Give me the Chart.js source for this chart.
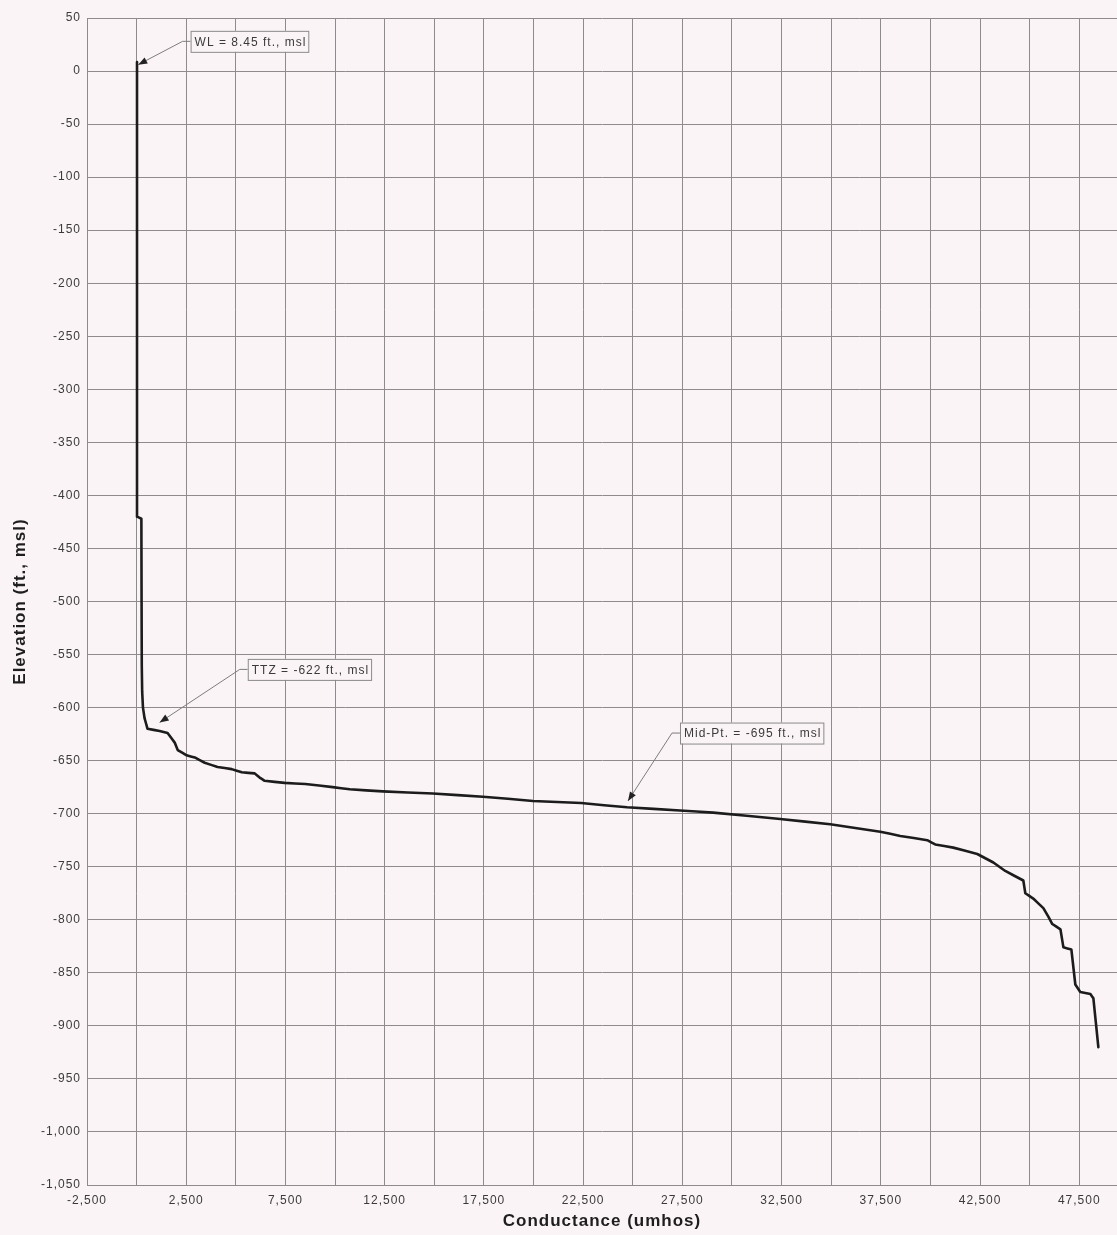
<!DOCTYPE html>
<html>
<head>
<meta charset="utf-8">
<title>Conductance vs Elevation</title>
<script src="https://cdn.jsdelivr.net/npm/chart.js@4/dist/chart.umd.min.js"></script>
<style>
  html, body { margin: 0; padding: 0; background: #fbf4f7; }
  #wrap { width: 1117px; height: 1235px; position: relative; }
</style>
</head>
<body>
<div id="wrap"><canvas id="profile"></canvas></div>
<script>
// log values, top of the hole to the bottom
const conductance = [
  20, 20, 240, 250, 260, 280, 320, 400, 550, 1160, 1560, 1920, 2070, 2520, 2930,
  3430, 4080, 4790, 5300, 5950, 6200, 6450, 7460, 8500, 9880, 10740, 12400, 14930,
  17450, 19970, 22400, 24710, 27380, 29050, 32430, 34950, 37470, 38480, 39840,
  40240, 41150, 42360, 43170, 43770, 44680, 44780, 45180, 45690, 45940, 46140,
  46550, 46700, 47100, 47300, 47550, 48060, 48210, 48460
];
const elevation = [
  8.45, -420, -422, -500, -560, -585, -600, -610, -620, -622, -624, -633, -640, -645, -647,
  -652, -656, -658, -661, -662, -666, -669, -671, -672, -675, -677, -679, -681,
  -684, -688, -690, -694, -697, -699, -705, -710, -717, -721, -725,
  -729, -732, -738, -746, -754, -763, -775, -780, -789, -797, -804,
  -809, -826, -828, -861, -868, -870, -874, -920
];

// grid every 2,500, label every other one
const xTicks = [
  -2500, 0, 2500, 5000, 7500, 10000, 12500, 15000, 17500, 20000, 22500,
  25000, 27500, 30000, 32500, 35000, 37500, 40000, 42500, 45000, 47500
];
const xLabelEvery = 2;
const xMin = -2500;
const xMax = 49400;
const yMin = -1050;
const yMax = 50;
const yStep = 50;

// callouts: label, arrow tip (data), box left-middle (data)
const noteText = ['WL = 8.45 ft., msl', 'TTZ = -622 ft., msl', 'Mid-Pt. = -695 ft., msl'];
const noteTipX = [80, 1160, 24760];
const noteTipY = [6, -614, -688];
const noteBoxX = [2720, 5600, 27380];
const noteBoxY = [28, -564, -624];

const bg = '#fbf4f7';
const gridColor = '#8f8a8d';
const textColor = '#3a3a3a';
const fontFamily = '"Liberation Sans", Arial, sans-serif';

function fmt(v) {
  return Number(v).toLocaleString('en-US');
}

const spacing = {
  id: 'spacing',
  beforeLayout(chart) { chart.ctx.letterSpacing = '1px'; },
  beforeDraw(chart) {
    const c = chart.ctx;
    c.letterSpacing = '1px';
    c.save();
    c.fillStyle = bg;
    c.fillRect(0, 0, chart.width, chart.height);
    c.restore();
  }
};

const callouts = {
  id: 'callouts',
  afterDatasetsDraw(chart) {
    const c = chart.ctx;
    const xs = chart.scales.x;
    const ys = chart.scales.y;
    c.save();
    c.font = '12px ' + fontFamily;
    c.letterSpacing = '1px';
    for (let i = 0; i < noteText.length; i++) {
      const tx = xs.getPixelForValue(noteTipX[i]);
      const ty = ys.getPixelForValue(noteTipY[i]);
      const bx = xs.getPixelForValue(noteBoxX[i]);
      const by = ys.getPixelForValue(noteBoxY[i]);
      const w = c.measureText(noteText[i]).width + 6;
      const h = 21;

      // leader
      c.strokeStyle = '#7d7d7d';
      c.lineWidth = 1;
      c.beginPath();
      c.moveTo(bx, by);
      c.lineTo(bx - 8, by);
      c.lineTo(tx, ty);
      c.stroke();

      // arrow head
      const ang = Math.atan2(ty - by, tx - (bx - 8));
      c.fillStyle = '#222';
      c.beginPath();
      c.moveTo(tx, ty);
      c.lineTo(tx - 9 * Math.cos(ang) + 3.5 * Math.sin(ang), ty - 9 * Math.sin(ang) - 3.5 * Math.cos(ang));
      c.lineTo(tx - 9 * Math.cos(ang) - 3.5 * Math.sin(ang), ty - 9 * Math.sin(ang) + 3.5 * Math.cos(ang));
      c.closePath();
      c.fill();

      // box
      c.fillStyle = bg;
      c.fillRect(bx, by - h / 2, w, h);
      c.strokeStyle = '#8a8a8a';
      c.strokeRect(bx + 0.5, by - h / 2 + 0.5, w, h);
      c.fillStyle = textColor;
      c.textAlign = 'left';
      c.textBaseline = 'middle';
      c.fillText(noteText[i], bx + 4, by + 1);
    }
    c.restore();
  }
};

const points = conductance.map((v, i) => ({ x: v, y: elevation[i] }));

var ctx = document.getElementById('profile');
new Chart(ctx, {
  type: 'line',
  data: {
    datasets: [{
      label: 'Conductance',
      data: points,
      borderColor: '#1c1c1c',
      borderWidth: 2.6,
      borderJoinStyle: 'round',
      borderCapStyle: 'round',
      pointRadius: 0,
      // tiny tension keeps Chart.js off its pixel-merging fast path
      tension: 0.0001,
      fill: false
    }]
  },
  options: {
    responsive: true,
    maintainAspectRatio: false,
    animation: false,
    layout: { padding: { top: 18, right: 0, left: 0, bottom: 0 } },
    plugins: {
      legend: { display: false },
      tooltip: { enabled: false }
    },
    scales: {
      x: {
        type: 'linear',
        min: xMin,
        max: xMax,
        afterBuildTicks(scale) { scale.ticks = xTicks.map(v => ({ value: v })); },
        afterFit(scale) { scale.height = 50; },
        ticks: {
          autoSkip: false,
          maxRotation: 0,
          padding: 8,
          color: textColor,
          font: { family: fontFamily, size: 12 },
          callback: (v, i) => (i % xLabelEvery === 0 ? fmt(v) : '')
        },
        grid: { color: gridColor, lineWidth: 1, drawTicks: false },
        border: { color: gridColor, width: 1 },
        title: {
          display: true,
          text: 'Conductance (umhos)',
          color: '#1e1e1e',
          font: { family: fontFamily, size: 17, weight: 'bold' },
          padding: { top: 0, bottom: 3 }
        }
      },
      y: {
        min: yMin,
        max: yMax,
        afterFit(scale) { scale.width = 87; },
        ticks: {
          stepSize: yStep,
          autoSkip: false,
          padding: 6,
          color: textColor,
          font: { family: fontFamily, size: 12 },
          callback: (v) => fmt(v)
        },
        grid: { color: gridColor, lineWidth: 1, drawTicks: false },
        border: { color: gridColor, width: 1 },
        title: {
          display: true,
          text: 'Elevation (ft., msl)',
          color: '#1e1e1e',
          font: { family: fontFamily, size: 17, weight: 'bold' },
          padding: { top: 10, bottom: 0 }
        }
      }
    }
  },
  plugins: [spacing, callouts]
});
</script>
</body>
</html>
